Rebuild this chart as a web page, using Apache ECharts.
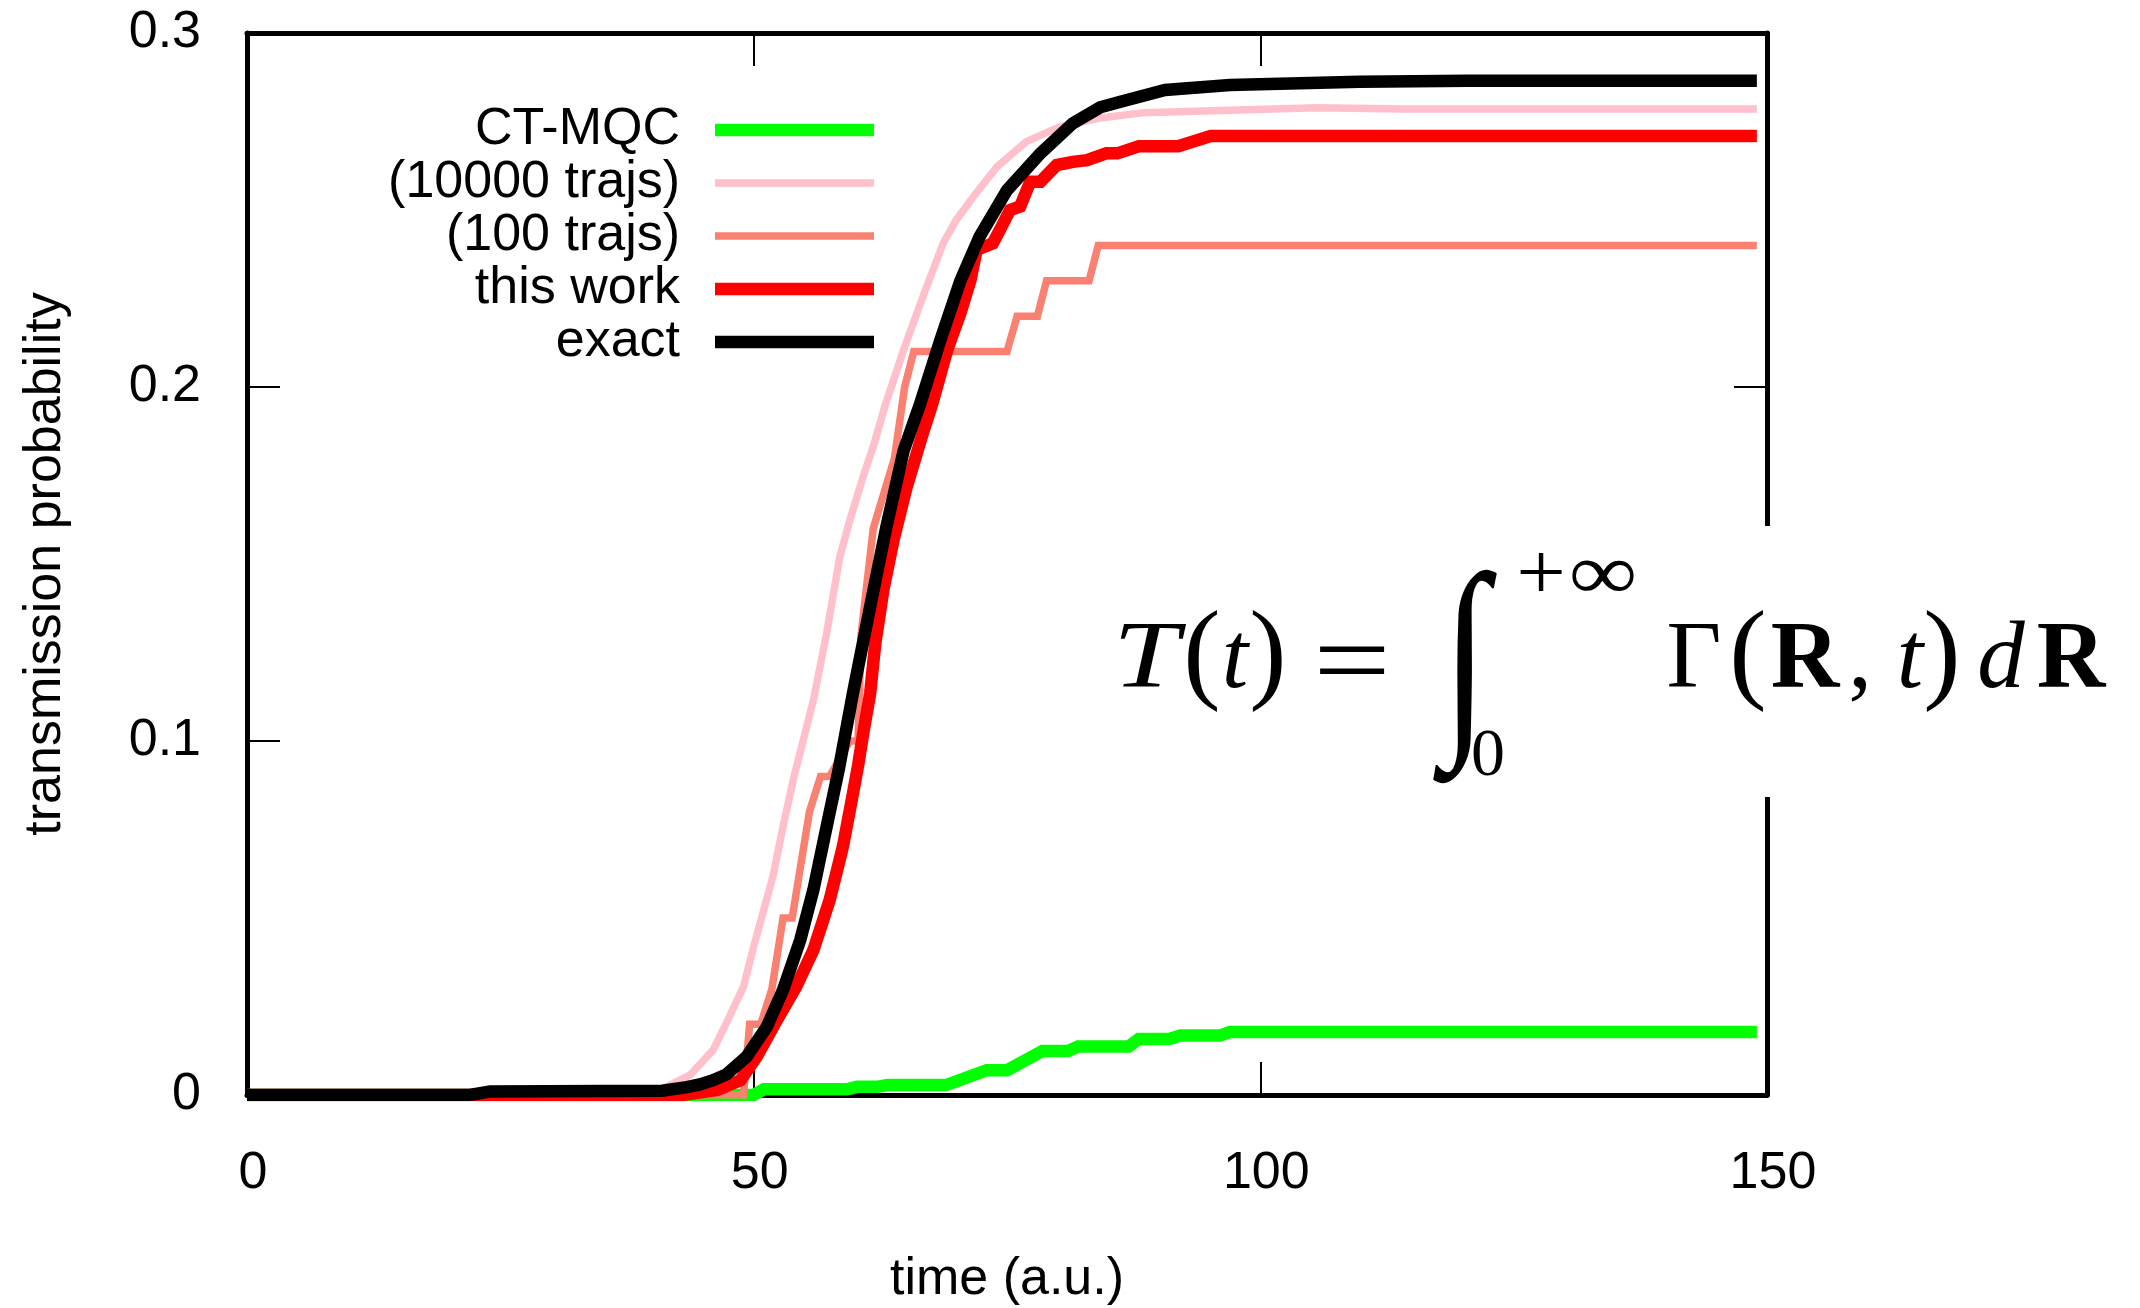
<!DOCTYPE html>
<html>
<head>
<meta charset="utf-8">
<script src="https://cdn.jsdelivr.net/npm/echarts@6.0.0/dist/echarts.min.js"></script>
<style>
  html, body { margin: 0; padding: 0; background: #ffffff; }
  #chart { width: 2140px; height: 1308px; }
</style>
</head>
<body>
<div id="chart"></div>
<script>
// ---- data: [time (a.u.), transmission probability] ----
const ctmqc = [
  [0, 0], [43, 0], [50, 0], [51, 0.0016], [59.2, 0.0016], [60.2, 0.0023], [62.2, 0.0023],
  [63.2, 0.0028], [69.0, 0.0028], [73.0, 0.007], [75.0, 0.007], [78.5, 0.0124], [81.0, 0.0124],
  [82.0, 0.0137], [87.0, 0.0137], [88.0, 0.0158], [91.0, 0.0158], [92.1, 0.0168], [96.0, 0.0168],
  [97.0, 0.0178], [149, 0.0178]
];

const trajs10000 = [
  [0, 0], [38, 0], [40, 0.001], [41.4, 0.0023], [43.7, 0.0056], [46.0, 0.0127], [47.3, 0.0203],
  [49.0, 0.0306], [50.0, 0.0419], [51.0, 0.0523], [51.9, 0.0617], [52.9, 0.0758], [53.9, 0.089],
  [55.9, 0.1116], [57.2, 0.1304], [58.5, 0.152], [59.5, 0.1624], [60.8, 0.1747], [61.8, 0.1831],
  [63.0, 0.195], [64.8, 0.2105], [66.7, 0.2255], [68.7, 0.2406], [70.0, 0.2472], [71.7, 0.2538],
  [74.0, 0.2622], [76.9, 0.2693], [80.2, 0.2735], [84.2, 0.276], [88.5, 0.2775], [97, 0.2782],
  [105.6, 0.2789], [114, 0.2785], [149, 0.2785]
];

const trajs100 = [
  [0, 0], [49.0, 0], [49.6, 0.02], [50.7, 0.02], [51.8, 0.03], [52.9, 0.05], [53.8, 0.05],
  [55.5, 0.08], [56.6, 0.09], [57.5, 0.09], [59.5, 0.10], [60.3, 0.10], [60.6, 0.13],
  [61.8, 0.16], [63.9, 0.18], [64.9, 0.20], [65.8, 0.21], [75.0, 0.21], [76.0, 0.22],
  [78.0, 0.22], [78.9, 0.23], [83.1, 0.23], [84.0, 0.24], [149, 0.24]
];

const thisWork = [
  [0, 0], [43, 0], [46.4, 0.0014], [48.7, 0.0042], [50.3, 0.0108], [52.3, 0.0212], [54.2, 0.0306],
  [55.9, 0.041], [57.5, 0.0551], [58.8, 0.0701], [59.8, 0.0852], [60.3, 0.093], [60.8, 0.102],
  [61.5, 0.1135], [62.0, 0.1276], [62.8, 0.1427], [63.8, 0.1568], [65.1, 0.1718], [66.7, 0.187],
  [67.6, 0.195], [69.1, 0.2105], [70.4, 0.2208], [71.4, 0.2302], [72.0, 0.2387], [73.6, 0.2406],
  [74.3, 0.2444], [75.3, 0.25], [76.3, 0.251], [77.3, 0.258], [78.3, 0.258], [79.9, 0.2627],
  [81.5, 0.2636], [82.9, 0.2641], [84.8, 0.266], [85.9, 0.266], [88.0, 0.268], [91.9, 0.268],
  [95.1, 0.2709], [149, 0.2709]
];

const exact = [
  [0, 0], [22, 0], [24, 0.001], [41, 0.0012], [43.4, 0.0022], [44.7, 0.003], [46.0, 0.0042],
  [47.3, 0.0058], [49.3, 0.0108], [51.3, 0.0193], [52.9, 0.0297], [54.6, 0.0438], [55.9, 0.058],
  [57.2, 0.0758], [58.4, 0.092], [59.8, 0.1135], [61.5, 0.138], [63.1, 0.1605], [64.8, 0.182],
  [66.4, 0.195], [68.4, 0.213], [70.4, 0.23], [72.3, 0.2425], [75.0, 0.2556], [78.3, 0.266],
  [81.5, 0.2745], [84.2, 0.279], [86.2, 0.2806], [90.6, 0.2839], [97, 0.2853], [109.8, 0.2862],
  [120.5, 0.2865], [149, 0.2865]
];

const seriesNames = ['CT-MQC', '(10000 trajs)', '(100 trajs)', 'this work', 'exact'];
const seriesData = [ctmqc, trajs10000, trajs100, thisWork, exact];

// axis ranges and tick spacing
const xRange = [0, 150];
const xStep = 50;
const yRange = [0, 0.3];
const yStep = 0.1;

// ---- styling ----
const colors = ['#00ff00', '#ffc0cb', '#fa8072', '#ff0000', '#000000'];
const widths = [12.5, 7.5, 7.5, 12.5, 12.5];
const legendRowY = [130, 183, 236, 289, 342];
const SANS = 'Liberation Sans, Arial, Helvetica, sans-serif';
const SERIF = 'Liberation Serif, Times New Roman, serif';
const FS = 52;

function frameLine() {
  return { show: true, onZero: false, lineStyle: { color: '#000', width: 5 } };
}
function innerTick() {
  return { show: true, inside: true, length: 33, lineStyle: { color: '#000', width: 2 } };
}

const series = seriesNames.map((name, i) => ({
  name: name,
  type: 'line',
  data: seriesData[i],
  showSymbol: false,
  symbol: 'none',
  lineStyle: { color: colors[i], width: widths[i], cap: 'butt', join: 'miter' },
  itemStyle: { color: colors[i] },
  z: 2 + i
}));

const legends = seriesNames.map((name, i) => ({
  data: [name],
  orient: 'horizontal',
  align: 'right',
  right: 2140 - 874,
  top: legendRowY[i] - 26,
  padding: 0,
  icon: 'rect',
  itemWidth: 159,
  itemHeight: widths[i],
  selectedMode: false,
  itemStyle: { color: colors[i], borderWidth: 0 },
  textStyle: {
    fontFamily: SANS, fontSize: FS, color: '#000', lineHeight: 52,
    padding: [0, 30, 0, 0]
  }
}));

// T(t) = \int_0^{+\infty} \Gamma(R,t) dR, set glyph by glyph
const mainY = 662;
function glyph(text, cx, cy, size, style, weight, family, sx, sy) {
  return {
    type: 'text', z: 110, silent: true,
    x: cx, y: cy,
    scaleX: sx || 1, scaleY: sy || 1,
    style: {
      text: text, x: 0, y: 0,
      fill: '#000',
      font: (style || 'normal') + ' ' + (weight || 'normal') + ' ' + size + 'px ' + (family || SERIF),
      align: 'center', verticalAlign: 'middle'
    }
  };
}
const formula = [
  glyph('T', 1146, mainY, 95, 'italic', 'normal', SERIF, 1.25, 1),
  glyph('(', 1202, 659, 112),
  glyph('t', 1235, mainY, 95, 'italic'),
  glyph(')', 1268, 659, 112),
  glyph('=', 1352, mainY + 6, 110, 'normal', 'normal', SERIF, 1.25, 1),
  glyph('\u222B', 1465, 668, 150, 'italic', 'normal', SERIF, 1.12, 1.45),
  glyph('+', 1541, 578, 80, 'normal', 'normal', SERIF, 1.1, 1),
  glyph('\u221E', 1603, 578, 80, 'normal', 'normal', SERIF, 1.2, 1),
  glyph('0', 1488, 757, 68),
  glyph('\u0393', 1694, mainY, 95),
  glyph('(', 1748, 659, 112),
  glyph('R', 1805, mainY, 95, 'normal', 'bold'),
  glyph(',', 1860, mainY, 95),
  glyph('t', 1910, mainY, 95, 'italic'),
  glyph(')', 1942, 659, 112),
  glyph('d', 2001, mainY, 95, 'italic'),
  glyph('R', 2071, mainY, 95, 'normal', 'bold')
];

const chart = echarts.init(document.getElementById('chart'), null, { renderer: 'canvas' });
chart.setOption({
  animation: false,
  backgroundColor: '#ffffff',
  grid: {
    left: 247, right: 2140 - 1767, top: 33, bottom: 1308 - 1095,
    containLabel: false, outerBoundsMode: 'none'
  },
  legend: legends,
  xAxis: [
    {
      type: 'value', position: 'bottom', min: xRange[0], max: xRange[1], interval: xStep,
      axisLine: frameLine(), axisTick: innerTick(), splitLine: { show: false },
      axisLabel: { fontFamily: SANS, fontSize: FS, color: '#000', margin: 53, padding: [0, 0, 0, 12] },
      name: 'time (a.u.)', nameLocation: 'middle', nameGap: 159,
      nameTextStyle: { fontFamily: SANS, fontSize: FS, color: '#000' }
    },
    {
      type: 'value', position: 'top', min: xRange[0], max: xRange[1], interval: xStep,
      axisLine: frameLine(), axisTick: innerTick(), splitLine: { show: false },
      axisLabel: { show: false }
    }
  ],
  yAxis: [
    {
      type: 'value', position: 'left', min: yRange[0], max: yRange[1], interval: yStep,
      axisLine: frameLine(), axisTick: innerTick(), splitLine: { show: false },
      axisLabel: { fontFamily: SANS, fontSize: FS, color: '#000', margin: 46 },
      name: 'transmission probability', nameLocation: 'middle', nameGap: 175, nameRotate: 90,
      nameTextStyle: { fontFamily: SANS, fontSize: FS, color: '#000' }
    },
    {
      type: 'value', position: 'right', min: yRange[0], max: yRange[1], interval: yStep,
      axisLine: frameLine(), axisTick: innerTick(), splitLine: { show: false },
      axisLabel: { show: false }
    }
  ],
  graphic: [
    {
      type: 'rect', z: 100, silent: true,
      shape: { x: 1090, y: 526, width: 1050, height: 271 },
      style: { fill: '#ffffff' }
    }
  ].concat(formula),
  series: series
});
</script>
</body>
</html>
